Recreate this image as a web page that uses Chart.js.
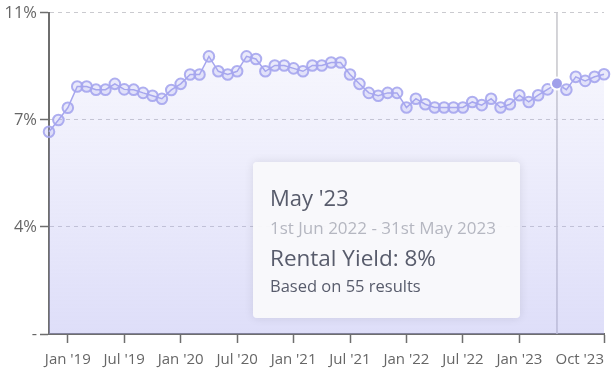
<!DOCTYPE html>
<html>
<head>
<meta charset="utf-8">
<script src="https://cdn.jsdelivr.net/npm/chart.js@4.4.1/dist/chart.umd.min.js"></script>
<style>
  html, body { margin: 0; padding: 0; background: #ffffff; }
  #wrap { position: relative; width: 615px; height: 375px; }
  #tip {
    position: absolute; left: 253px; top: 162px; width: 267px; height: 156px;
    box-sizing: border-box;
    background: rgba(249,249,251,0.94); border-radius: 4px;
    box-shadow: 0 0 10px rgba(0,0,0,0.10);
    font-family: "Open Sans", sans-serif; color: #585c6c;
  }
  #tip div { position: absolute; left: 17px; white-space: nowrap; line-height: 1.362; }
  #tip .t1 { font-size: 22px; top: 21px; }
  #tip .t2 { font-size: 17px; top: 54px; color: #b5b7c1; }
  #tip .t3 { font-size: 22.5px; top: 81px; }
  #tip .t4 { font-size: 16.5px; top: 113px; }
</style>
</head>
<body>
<div id="wrap">
  <canvas id="c" width="615" height="375"></canvas>
  <div id="tip">
    <div class="t1" id="tTitle"></div>
    <div class="t2" id="tRange"></div>
    <div class="t3" id="tValue"></div>
    <div class="t4" id="tCount"></div>
  </div>
</div>
<script>
const months = ["Nov '18","Dec '18",
  "Jan '19","Feb '19","Mar '19","Apr '19","May '19","Jun '19","Jul '19","Aug '19","Sep '19","Oct '19","Nov '19","Dec '19",
  "Jan '20","Feb '20","Mar '20","Apr '20","May '20","Jun '20","Jul '20","Aug '20","Sep '20","Oct '20","Nov '20","Dec '20",
  "Jan '21","Feb '21","Mar '21","Apr '21","May '21","Jun '21","Jul '21","Aug '21","Sep '21","Oct '21","Nov '21","Dec '21",
  "Jan '22","Feb '22","Mar '22","Apr '22","May '22","Jun '22","Jul '22","Aug '22","Sep '22","Oct '22","Nov '22","Dec '22",
  "Jan '23","Feb '23","Mar '23","Apr '23","May '23","Jun '23","Jul '23","Aug '23","Sep '23","Oct '23"];

const rentalYield = [6.93, 7.33, 7.75, 8.48, 8.48, 8.37, 8.37, 8.57, 8.38, 8.37,
  8.26, 8.16, 8.06, 8.36, 8.57, 8.89, 8.89, 9.51, 9.00, 8.89,
  9.00, 9.51, 9.42, 9.00, 9.20, 9.20, 9.10, 9.00, 9.20, 9.20,
  9.30, 9.30, 8.89, 8.57, 8.26, 8.16, 8.26, 8.26, 7.76, 8.06,
  7.87, 7.76, 7.76, 7.76, 7.76, 7.95, 7.84, 8.06, 7.76, 7.87,
  8.18, 7.95, 8.18, 8.38, 8.58, 8.37, 8.81, 8.67, 8.81, 8.90];

const xTickLabels = ["Jan '19","Jul '19","Jan '20","Jul '20","Jan '21","Jul '21","Jan '22","Jul '22","Jan '23","Oct '23"];
const yTickValues = [0, 11/3, 22/3, 11];
const yTickLabels = ["-", "4%", "7%", "11%"];

const activeMonth = "May '23";
const tooltipTitle = "May '23";
const tooltipRange = "1st Jun 2022 - 31st May 2023";
const tooltipValue = "Rental Yield: 8%";
const tooltipCount = "Based on 55 results";

document.getElementById('tTitle').textContent = tooltipTitle;
document.getElementById('tRange').textContent = tooltipRange;
document.getElementById('tValue').textContent = tooltipValue;
document.getElementById('tCount').textContent = tooltipCount;

const activeIndex = months.indexOf(activeMonth);
const lineColor = 'rgb(166,166,238)';

const hoverLine = {
  id: 'hoverLine',
  beforeDatasetsDraw(chart) {
    const x = chart.scales.x.getPixelForValue(activeIndex);
    const {top, bottom} = chart.chartArea;
    const ctx = chart.ctx;
    ctx.save();
    ctx.strokeStyle = '#c6c6cb';
    ctx.lineWidth = 1.5;
    ctx.beginPath();
    ctx.moveTo(x, top);
    ctx.lineTo(x, bottom);
    ctx.stroke();
    ctx.restore();
  }
};

new Chart(document.getElementById('c'), {
  type: 'line',
  data: {
    labels: months,
    datasets: [{
      data: rentalYield,
      borderColor: lineColor,
      borderWidth: 1.5,
      tension: 0,
      fill: 'origin',
      backgroundColor(ctx) {
        const ca = ctx.chart.chartArea;
        if (!ca) return 'rgba(166,166,238,0.2)';
        const g = ctx.chart.ctx.createLinearGradient(0, ca.top, 0, ca.bottom);
        g.addColorStop(0, 'rgba(166,166,238,0.05)');
        g.addColorStop(1, 'rgba(166,166,238,0.37)');
        return g;
      },
      pointBorderWidth: 2,
      pointBorderColor(ctx) { return ctx.dataIndex === activeIndex ? '#ffffff' : 'rgba(166,166,238,0.9)'; },
      pointBackgroundColor(ctx) { return ctx.dataIndex === activeIndex ? 'rgb(160,160,234)' : 'rgba(166,166,238,0.25)'; },
      pointRadius(ctx) { return ctx.dataIndex === activeIndex ? 6 : 5.3; }
    }]
  },
  options: {
    responsive: false,
    animation: false,
    layout: { padding: { top: 10, right: 11, left: 0, bottom: 0 } },
    plugins: { legend: { display: false }, tooltip: { enabled: false } },
    scales: {
      x: {
        type: 'category',
        afterBuildTicks(scale) {
          const idx = [0];
          xTickLabels.forEach(l => idx.push(months.indexOf(l)));
          scale.ticks = idx.map(v => ({ value: v }));
        },
        afterFit(scale) { scale.height = 41; },
        border: { display: true, color: '#6e6e6e', width: 2 },
        grid: {
          drawOnChartArea: false,
          drawTicks: true,
          tickLength: 9,
          tickWidth: 1.5,
          tickColor(ctx) { return ctx.index === 0 ? 'rgba(0,0,0,0)' : '#6e6e6e'; }
        },
        ticks: {
          autoSkip: false,
          maxRotation: 0,
          align: 'inner',
          padding: 8,
          color: '#666666',
          font: { family: 'Open Sans', size: 15 },
          callback(value) { return value === 0 ? '' : months[value]; }
        }
      },
      y: {
        min: 0,
        max: 11,
        afterBuildTicks(scale) { scale.ticks = yTickValues.map(v => ({ value: v })); },
        afterFit(scale) { scale.width = 49; },
        border: { display: true, color: '#6e6e6e', width: 2, dash: [4, 4] },
        grid: {
          color: '#cacacf',
          lineWidth: 1,
          tickLength: 9,
          tickWidth: 1.5,
          tickColor: '#6e6e6e',
          tickBorderDash: []
        },
        ticks: {
          padding: 3,
          color: '#666666',
          font: { family: 'Open Sans', size: 16.5 },
          callback(value, index) { return yTickLabels[index]; }
        }
      }
    }
  },
  plugins: [hoverLine]
});
</script>
</body>
</html>
